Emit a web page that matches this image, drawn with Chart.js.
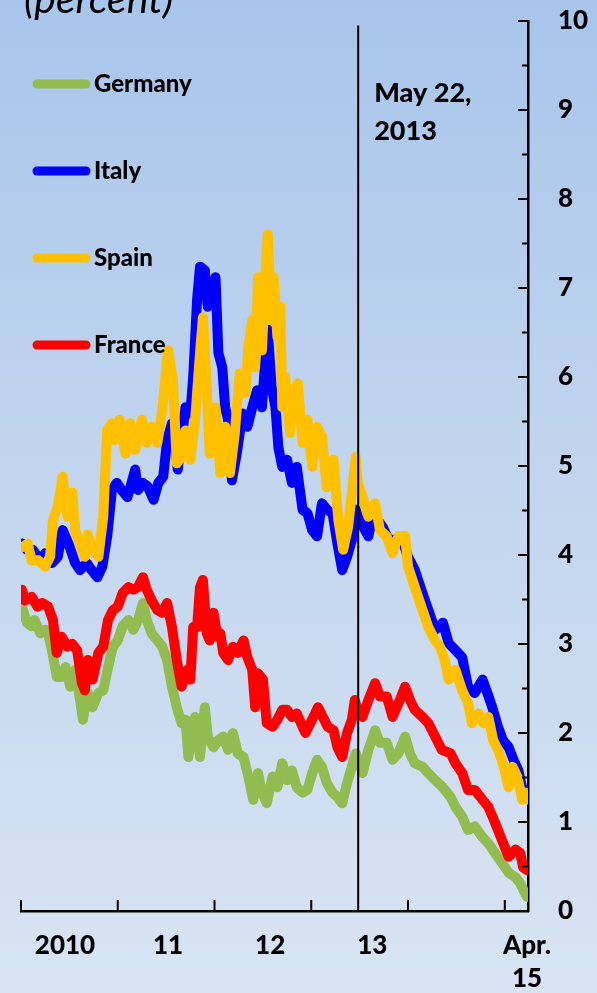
<!DOCTYPE html>
<html>
<head>
<meta charset="utf-8">
<script src="https://cdn.jsdelivr.net/npm/chart.js@4.4.1/dist/chart.umd.min.js"></script>
<style>
  html, body { margin: 0; padding: 0; }
  body {
    width: 597px;
    height: 993px;
    overflow: hidden;
    background: linear-gradient(to bottom, #a8c5eb 0%, #c3d6ee 50%, #d8e4f3 100%);
  }
  canvas { display: block; }
</style>
</head>
<body>
<canvas id="yieldChart" width="597" height="993"></canvas>
<script>
// 10-year government bond yields, percent (time in fractional years)
const germanyT = [2010.01, 2010.06, 2010.11, 2010.14, 2010.20, 2010.25, 2010.28, 2010.32, 2010.37, 2010.42, 2010.46, 2010.51, 2010.56, 2010.61, 2010.64, 2010.69, 2010.74, 2010.80, 2010.85, 2010.90, 2010.95,
  2011.00, 2011.05, 2011.11, 2011.16, 2011.21, 2011.26, 2011.30, 2011.35, 2011.41, 2011.46, 2011.51, 2011.56, 2011.61, 2011.66, 2011.70, 2011.73, 2011.77, 2011.80, 2011.85, 2011.90, 2011.93, 2011.99,
  2012.04, 2012.09, 2012.14, 2012.19, 2012.24, 2012.30, 2012.35, 2012.40, 2012.45, 2012.49, 2012.54, 2012.60, 2012.65, 2012.70, 2012.75, 2012.80, 2012.85, 2012.91, 2012.96,
  2013.01, 2013.06, 2013.11, 2013.16, 2013.22, 2013.27, 2013.32, 2013.37, 2013.42, 2013.46, 2013.53, 2013.59, 2013.66, 2013.71, 2013.78, 2013.84, 2013.90, 2013.97,
  2014.02, 2014.07, 2014.15, 2014.21, 2014.28, 2014.36, 2014.44, 2014.49, 2014.56, 2014.62, 2014.69, 2014.77, 2014.83, 2014.90, 2014.97,
  2015.04, 2015.11, 2015.16, 2015.21, 2015.23];
const germanyV = [3.42, 3.24, 3.20, 3.27, 3.12, 3.16, 3.12, 2.93, 2.63, 2.63, 2.74, 2.52, 2.71, 2.37, 2.15, 2.45, 2.29, 2.45, 2.48, 2.74, 2.97,
  3.04, 3.20, 3.27, 3.16, 3.27, 3.46, 3.27, 3.12, 3.04, 2.97, 2.82, 2.52, 2.29, 2.11, 2.15, 1.73, 2.07, 2.18, 1.73, 2.29, 1.96, 1.84,
  1.92, 1.96, 1.81, 2.00, 1.77, 1.73, 1.51, 1.25, 1.55, 1.33, 1.21, 1.51, 1.39, 1.66, 1.47, 1.58, 1.39, 1.33, 1.36,
  1.55, 1.70, 1.62, 1.44, 1.33, 1.28, 1.21, 1.44, 1.62, 1.77, 1.55, 1.81, 2.03, 1.89, 1.89, 1.70, 1.77, 1.96,
  1.77, 1.66, 1.62, 1.55, 1.47, 1.39, 1.28, 1.17, 1.06, 0.91, 0.95, 0.83, 0.76, 0.65, 0.54,
  0.43, 0.38, 0.31, 0.20, 0.16];

const italyT = [2010.01, 2010.06, 2010.12, 2010.20, 2010.25, 2010.32, 2010.38, 2010.43, 2010.49, 2010.56, 2010.61, 2010.68, 2010.73, 2010.79, 2010.84, 2010.89, 2010.94, 2010.99,
  2011.04, 2011.10, 2011.15, 2011.18, 2011.21, 2011.26, 2011.31, 2011.37, 2011.42, 2011.47, 2011.51, 2011.56, 2011.59, 2011.62, 2011.68, 2011.70, 2011.75, 2011.78, 2011.82, 2011.85, 2011.90, 2011.93, 2011.98,
  2012.01, 2012.04, 2012.08, 2012.11, 2012.14, 2012.18, 2012.23, 2012.29, 2012.34, 2012.39, 2012.44, 2012.49, 2012.52, 2012.55, 2012.59, 2012.63, 2012.66, 2012.70, 2012.75, 2012.80, 2012.85, 2012.91, 2012.96,
  2013.01, 2013.06, 2013.11, 2013.16, 2013.22, 2013.27, 2013.32, 2013.37, 2013.42, 2013.46, 2013.48, 2013.54, 2013.59, 2013.64, 2013.69, 2013.74, 2013.80, 2013.87, 2013.94,
  2014.00, 2014.07, 2014.15, 2014.21, 2014.28, 2014.36, 2014.42, 2014.49, 2014.56, 2014.62, 2014.69, 2014.77, 2014.82, 2014.87, 2014.93, 2014.98,
  2015.04, 2015.09, 2015.14, 2015.19, 2015.23];
const italyV = [4.13, 4.06, 4.06, 3.94, 4.02, 3.91, 3.98, 4.28, 4.13, 3.91, 3.83, 3.91, 3.83, 3.75, 3.87, 4.20, 4.73, 4.81,
  4.73, 4.65, 4.84, 4.96, 4.73, 4.81, 4.77, 4.62, 4.81, 4.88, 5.29, 5.48, 5.29, 4.96, 5.48, 5.66, 5.59, 6.00, 6.87, 7.24, 7.20, 6.79, 6.98,
  7.12, 6.27, 6.11, 5.66, 5.52, 4.84, 5.14, 5.59, 5.44, 5.66, 5.85, 5.66, 6.11, 6.53, 5.89, 5.66, 5.21, 4.99, 5.07, 4.81, 4.99, 4.51, 4.47,
  4.28, 4.21, 4.58, 4.51, 4.47, 4.13, 3.83, 3.98, 4.17, 4.51, 4.43, 4.31, 4.21, 4.47, 4.39, 4.31, 4.17, 4.17, 4.17,
  3.98, 3.83, 3.57, 3.38, 3.16, 3.24, 3.01, 2.93, 2.85, 2.52, 2.45, 2.60, 2.45, 2.29, 2.07, 1.92,
  1.84, 1.70, 1.58, 1.33, 1.36];

const spainT = [2010.02, 2010.07, 2010.11, 2010.18, 2010.25, 2010.30, 2010.33, 2010.38, 2010.43, 2010.48, 2010.53, 2010.56, 2010.61, 2010.66, 2010.69, 2010.74, 2010.80, 2010.85, 2010.89, 2010.94, 2010.97,
  2011.02, 2011.08, 2011.13, 2011.18, 2011.25, 2011.30, 2011.35, 2011.41, 2011.46, 2011.52, 2011.57, 2011.61, 2011.66, 2011.70, 2011.75, 2011.80, 2011.85, 2011.88, 2011.92, 2011.95,
  2012.01, 2012.06, 2012.11, 2012.16, 2012.21, 2012.26, 2012.32, 2012.35, 2012.39, 2012.42, 2012.45, 2012.49, 2012.52, 2012.55, 2012.59, 2012.61, 2012.65, 2012.68, 2012.70, 2012.73, 2012.78, 2012.81, 2012.86, 2012.91, 2012.96,
  2013.01, 2013.06, 2013.11, 2013.16, 2013.23, 2013.28, 2013.33, 2013.38, 2013.42, 2013.46, 2013.48, 2013.54, 2013.59, 2013.66, 2013.71, 2013.78, 2013.84, 2013.90, 2013.97,
  2014.00, 2014.07, 2014.15, 2014.21, 2014.28, 2014.33, 2014.38, 2014.42, 2014.49, 2014.56, 2014.62, 2014.66, 2014.73, 2014.78, 2014.83, 2014.88, 2014.93, 2014.98,
  2015.04, 2015.08, 2015.13, 2015.18, 2015.21, 2015.24];
const spainV = [4.09, 4.13, 3.94, 3.94, 3.87, 3.98, 4.39, 4.54, 4.88, 4.43, 4.70, 4.28, 4.13, 3.98, 4.23, 4.06, 3.98, 4.43, 5.40, 5.48, 5.29,
  5.52, 5.14, 5.48, 5.18, 5.52, 5.26, 5.44, 5.26, 5.63, 6.30, 5.97, 5.03, 5.10, 5.40, 5.07, 5.52, 6.27, 6.67, 5.89, 5.14,
  5.66, 4.92, 5.44, 4.92, 5.37, 6.04, 5.82, 6.34, 6.64, 6.11, 7.12, 6.30, 7.01, 7.60, 6.64, 7.12, 6.45, 6.79, 5.66, 6.00, 5.37, 5.74, 5.93, 5.26, 5.52,
  4.99, 5.44, 5.33, 4.76, 5.07, 4.39, 4.06, 4.31, 4.70, 5.10, 4.81, 4.62, 4.43, 4.58, 4.28, 4.21, 4.02, 4.21, 4.21,
  3.87, 3.64, 3.38, 3.19, 3.04, 2.97, 2.82, 2.60, 2.71, 2.48, 2.34, 2.11, 2.22, 2.11, 2.18, 1.92, 1.81, 1.66,
  1.39, 1.62, 1.51, 1.25, 1.33, 1.25];

const franceT = [2010.01, 2010.04, 2010.11, 2010.17, 2010.22, 2010.28, 2010.33, 2010.37, 2010.42, 2010.48, 2010.53, 2010.58, 2010.63, 2010.66, 2010.69, 2010.74, 2010.80, 2010.85, 2010.90, 2010.95,
  2011.00, 2011.05, 2011.11, 2011.16, 2011.21, 2011.26, 2011.30, 2011.35, 2011.41, 2011.46, 2011.51, 2011.56, 2011.61, 2011.66, 2011.72, 2011.75, 2011.78, 2011.82, 2011.85, 2011.88, 2011.92, 2011.95, 2011.99,
  2012.03, 2012.06, 2012.09, 2012.14, 2012.19, 2012.24, 2012.30, 2012.34, 2012.39, 2012.42, 2012.45, 2012.50, 2012.54, 2012.60, 2012.65, 2012.70, 2012.75, 2012.80, 2012.85, 2012.91, 2012.94, 2012.99,
  2013.04, 2013.07, 2013.12, 2013.17, 2013.23, 2013.27, 2013.32, 2013.37, 2013.42, 2013.45, 2013.47, 2013.53, 2013.59, 2013.66, 2013.71, 2013.78, 2013.84, 2013.90, 2013.97,
  2014.02, 2014.07, 2014.15, 2014.21, 2014.28, 2014.35, 2014.44, 2014.49, 2014.56, 2014.62, 2014.69, 2014.77, 2014.83, 2014.90, 2014.97,
  2015.04, 2015.11, 2015.16, 2015.19, 2015.23];
const franceV = [3.61, 3.49, 3.53, 3.42, 3.46, 3.42, 3.27, 2.90, 3.08, 2.97, 3.00, 2.93, 2.56, 2.48, 2.82, 2.60, 2.90, 2.97, 3.27, 3.38,
  3.42, 3.57, 3.64, 3.61, 3.64, 3.75, 3.61, 3.49, 3.38, 3.35, 3.46, 3.19, 2.82, 2.52, 2.71, 2.60, 3.19, 3.19, 3.64, 3.72, 3.12, 3.04, 3.35,
  3.08, 3.12, 2.90, 2.82, 2.97, 2.90, 3.04, 2.85, 2.71, 2.29, 2.67, 2.60, 2.11, 2.07, 2.15, 2.26, 2.26, 2.18, 2.22, 2.07, 2.00, 2.11,
  2.22, 2.29, 2.18, 2.07, 2.03, 1.84, 1.73, 2.00, 2.15, 2.37, 2.29, 2.18, 2.37, 2.56, 2.41, 2.41, 2.18, 2.33, 2.52,
  2.37, 2.26, 2.18, 2.11, 1.96, 1.81, 1.77, 1.66, 1.55, 1.36, 1.36, 1.25, 1.17, 0.99, 0.80,
  0.61, 0.69, 0.65, 0.49, 0.46];

const countries = ['Germany', 'Italy', 'Spain', 'France'];
const colors = ['#92bb50', '#0000ff', '#ffc000', '#ff0000'];

const xMin = 2010;
const xMax = 2015.24;
const yearTicks = [2010, 2011, 2012, 2013, 2014, 2015];
const xLabelPos = [2010.455, 2011.52, 2012.575, 2013.63, 2015.23];
const xLabels = ['2010', '11', '12', '13', ['Apr.', '15']];

const eventT = 2013.485;
const eventTop = 9.95;
const eventLabel = ['May 22,', '2013'];

const toPoints = (ts, vs) => ts.map((t, i) => ({ x: t, y: vs[i] }));

const FONT = 'Lato, "Open Sans", sans-serif';

// tick marks point inward, like the original
const inwardTicks = {
  id: 'inwardTicks',
  afterDatasetsDraw(chart) {
    const { ctx, chartArea, scales } = chart;
    ctx.save();
    ctx.strokeStyle = '#000';
    ctx.lineWidth = 2;
    ctx.beginPath();
    yearTicks.forEach(v => {
      const px = scales.x.getPixelForValue(v);
      ctx.moveTo(px, chartArea.bottom);
      ctx.lineTo(px, chartArea.bottom - 11);
    });
    for (let v = 0; v <= 10; v += 0.5) {
      const py = scales.y.getPixelForValue(v);
      const len = v % 1 === 0 ? 10 : 6;
      ctx.moveTo(chartArea.right, py);
      ctx.lineTo(chartArea.right - len, py);
    }
    ctx.stroke();
    ctx.restore();
  }
};

const sideText = {
  id: 'sideText',
  afterDraw(chart) {
    const { ctx, scales } = chart;
    ctx.save();

    ctx.fillStyle = '#000';
    ctx.font = 'italic 41px ' + FONT;
    ctx.textBaseline = 'alphabetic';
    ctx.fillText('(percent)', 24, 13);

    const rows = [84, 171, 258, 345];
    ctx.font = '900 24px ' + FONT;
    ctx.textBaseline = 'middle';
    ctx.lineCap = 'round';
    countries.forEach((name, i) => {
      ctx.strokeStyle = colors[i];
      ctx.lineWidth = 9;
      ctx.beginPath();
      ctx.moveTo(37, rows[i]);
      ctx.lineTo(86, rows[i]);
      ctx.stroke();
      ctx.fillText(name, 94, rows[i]);
    });

    ctx.font = '900 27px ' + FONT;
    ctx.textBaseline = 'alphabetic';
    const ex = scales.x.getPixelForValue(eventT) + 16;
    ctx.fillText(eventLabel[0], ex, 102);
    ctx.fillText(eventLabel[1], ex, 140);

    ctx.restore();
  }
};

const datasets = countries.map((name, i) => ({
  label: name,
  data: toPoints([germanyT, italyT, spainT, franceT][i], [germanyV, italyV, spainV, franceV][i]),
  borderColor: colors[i],
  borderWidth: 10,
  borderJoinStyle: 'round',
  borderCapStyle: 'round',
  pointRadius: 0,
  tension: 0,
  order: 4 - i
}));

datasets.push({
  label: 'event',
  data: [{ x: eventT, y: 0 }, { x: eventT, y: eventTop }],
  borderColor: '#000',
  borderWidth: 2,
  pointRadius: 0,
  order: 0
});

new Chart(document.getElementById('yieldChart'), {
  type: 'line',
  data: { datasets },
  options: {
    responsive: false,
    animation: false,
    devicePixelRatio: 1,
    layout: { padding: { left: 21, top: 21, right: 0, bottom: 0 } },
    plugins: {
      legend: { display: false },
      tooltip: { enabled: false }
    },
    scales: {
      x: {
        type: 'linear',
        min: xMin,
        max: xMax,
        afterBuildTicks: scale => { scale.ticks = xLabelPos.map(v => ({ value: v })); },
        afterFit: scale => {
          scale.height = 82;
          scale.paddingLeft = 0;
          scale.paddingRight = 0;
        },
        grid: { display: false, drawTicks: false },
        border: { display: true, color: '#000', width: 2.5 },
        ticks: {
          autoSkip: false,
          maxRotation: 0,
          padding: 18,
          color: '#000',
          font: { family: FONT, size: 26, weight: '900', lineHeight: 1.27 },
          callback: (value, index) => xLabels[index]
        }
      },
      y: {
        position: 'right',
        min: 0,
        max: 10,
        afterFit: scale => {
          scale.width = 69;
          scale.paddingTop = 0;
          scale.paddingBottom = 0;
        },
        grid: { display: false, drawTicks: false },
        border: { display: true, color: '#000', width: 2.5 },
        ticks: {
          stepSize: 1,
          padding: 30,
          color: '#000',
          font: { family: FONT, size: 26, weight: '900' }
        }
      }
    }
  },
  plugins: [inwardTicks, sideText]
});
</script>
</body>
</html>
